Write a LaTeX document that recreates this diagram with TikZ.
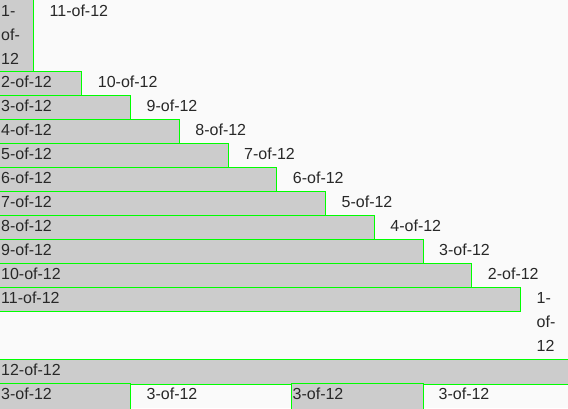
\documentclass[tikz,border=0pt]{standalone}
\usepackage{fontspec}
\setmainfont{Liberation Sans}
\definecolor{bg}{RGB}{250,250,250}
\definecolor{boxgray}{RGB}{204,204,204}
\definecolor{lime}{RGB}{0,255,0}
\definecolor{txt}{RGB}{40,40,40}
\begin{document}
\begin{tikzpicture}[x=1pt,y=-1pt,
  cell/.style={fill=boxgray,draw=lime,line width=1pt},
  lbl/.style={anchor=base west,inner sep=0pt,text=txt,font=\fontsize{16}{24}\selectfont}]
\useasboundingbox (0,0) rectangle (568,408);
\fill[bg] (0,0) rectangle (568,408);
\begin{scope}
\clip (0,0) rectangle (568,408);
% row 1
\draw[cell] (-2,-2) rectangle (33,71.3);
\node[lbl] (g1a) at (1,16.8) {1-};
\node[lbl] (g1b) at (1,40.5) {of-};
\node[lbl] (g1c) at (1,64.3) {12};
\node[lbl] (w11) at (49.5,16.8) {11-of-12};
% rows 2..11
\foreach \n in {2,...,11}{
  \pgfmathsetmacro\tp{71.3+24*(\n-2)}
  \pgfmathsetmacro\bt{\tp+24}
  \pgfmathsetmacro\rx{48.75*\n-15.75}
  \pgfmathsetmacro\bl{\tp+16}
  \draw[cell] (-2,\tp) rectangle (\rx,\bt);
  \node[lbl] (g\n) at (1,\bl) {\n-of-12};
}
\foreach \n in {2,...,10}{
  \pgfmathsetmacro\tp{71.3+24*(\n-2)}
  \pgfmathsetmacro\bl{\tp+16}
  \pgfmathsetmacro\wx{48.75*\n-15.75+16}
  \pgfmathtruncatemacro\m{12-\n}
  \node[lbl] (w\m) at (\wx,\bl) {\m-of-12};
}
% wrapped 1-of-12
\node[lbl] (w1a) at (536.5,303.3) {1-};
\node[lbl] (w1b) at (536.5,327.3) {of-};
\node[lbl] (w1c) at (536.5,351.3) {12};
% row 12
\draw[cell] (-2,359.3) rectangle (572,384.3);
\node[lbl] (g12) at (1,375.3) {12-of-12};
% bottom row
\draw[cell] (-2,383.7) rectangle (130.5,412);
\draw[cell] (291.5,383.7) rectangle (423,412);
\node[lbl] (b1) at (1,399.7) {3-of-12};
\node[lbl] (b2) at (146.5,399.7) {3-of-12};
\node[lbl] (b3) at (292.5,399.7) {3-of-12};
\node[lbl] (b4) at (438.5,399.7) {3-of-12};
\end{scope}
\end{tikzpicture}
\end{document}
